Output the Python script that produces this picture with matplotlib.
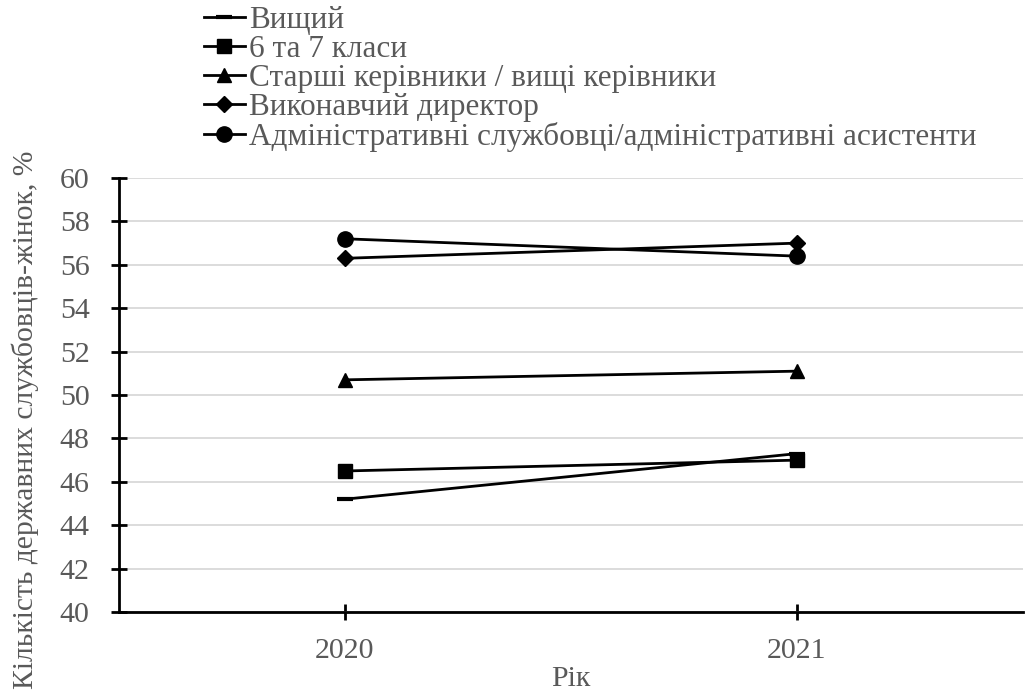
import matplotlib
matplotlib.use("Agg")
import matplotlib.pyplot as plt

years = ["2020", "2021"]
series_names = [
    "Вищий",
    "6 та 7 класи",
    "Старші керівники / вищі керівники",
    "Виконавчий директор",
    "Адміністративні службовці/адміністративні асистенти",
]
vyshchyi = [45.2, 47.3]
klasy_6_7 = [46.5, 47.0]
starshi = [50.7, 51.1]
vykonavchyi = [56.3, 57.0]
admin = [57.2, 56.4]
y_ticks = [40, 42, 44, 46, 48, 50, 52, 54, 56, 58, 60]

plt.rcParams['font.family'] = ['Liberation Serif', 'DejaVu Serif']
text_color = '#595959'

fig = plt.figure(figsize=(10.25, 6.9), dpi=100)
ax = fig.add_axes([0.116, 0.113, 0.882, 0.629])

x = list(range(len(years)))
markers = [('_', 12, 3), ('s', 10, 1), ('^', 10, 1), ('D', 8.5, 1), ('o', 11, 1)]
all_series = [vyshchyi, klasy_6_7, starshi, vykonavchyi, admin]
handles = []
for name, vals, (m, ms, mew) in zip(series_names, all_series, markers):
    h, = ax.plot(x, vals, color='black', lw=2, marker=m, markersize=ms,
                 markeredgewidth=mew if m != '_' else 3, label=name)
    handles.append(h)

ax.set_xlim(-0.5, len(years) - 0.5)
ax.set_ylim(40, 60)
ax.set_yticks(y_ticks)
ax.set_xticks(x)
ax.set_xticklabels(years)
ax.grid(axis='y', color='#d9d9d9', lw=1.3)
ax.set_axisbelow(True)
for s in ['top', 'right']:
    ax.spines[s].set_visible(False)
for s in ['left', 'bottom']:
    ax.spines[s].set_linewidth(2)
    ax.spines[s].set_color('black')
ax.tick_params(axis='both', direction='inout', length=12, width=2, color='black',
               labelsize=21.5, labelcolor=text_color)
ax.tick_params(axis='x', pad=13)
ax.tick_params(axis='y', pad=15)

ax.set_xlabel("Рік", fontsize=21.5, color=text_color, labelpad=1)
ax.set_ylabel("Кількість державних службовців-жінок, %", fontsize=21.3, color=text_color)
ax.yaxis.label.set_va('center')
ax.yaxis.set_label_coords(-0.104, 0.442)

leg = fig.legend(handles=handles, loc='upper left', bbox_to_anchor=(0.187, 1.01),
                 frameon=False, fontsize=22.5, labelcolor=text_color,
                 handlelength=1.3, handletextpad=0.15, labelspacing=0.0,
                 borderaxespad=0)

fig.savefig("out.png", dpi=100)
